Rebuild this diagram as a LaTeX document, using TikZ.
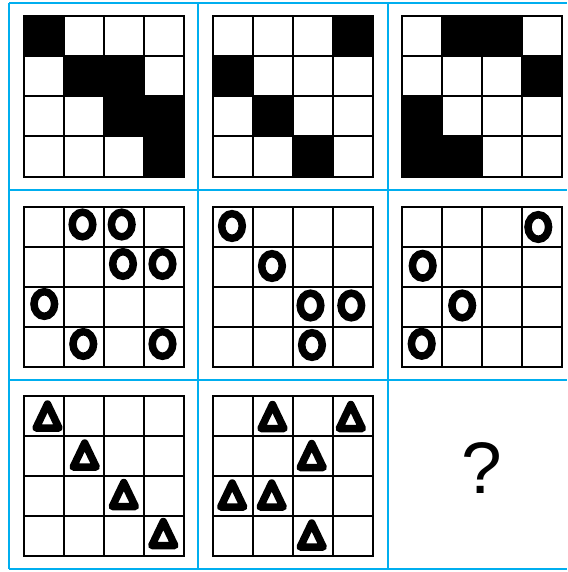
\documentclass[tikz,border=0pt]{standalone}
\usepackage{fontspec}
\setmainfont{Liberation Sans}
\definecolor{frameblue}{RGB}{0,174,239}
\tikzset{
  frameline/.style={draw=frameblue, line width=2.6pt},
  gridline/.style={draw=black, line width=2pt},
  blackcell/.style={fill=black},
  ring/.style={draw=black, line width=7.5pt},
  tri/.style={draw=black, line width=7.5pt, line join=round},
  qmark/.style={font=\fontsize{73}{73}\selectfont, inner sep=0pt}
}
% grid at (#1,#2) top-left, 160x160
\newcommand{\mygrid}[2]{%
  \draw[gridline] (#1,#2) rectangle ++(160,160);
  \foreach \k in {1,2,3}{
    \draw[gridline] ({#1+40*\k},#2) -- ++(0,160);
    \draw[gridline] (#1,{#2+40*\k}) -- ++(160,0);
  }}
\newcommand{\mycell}[4]{% gridx, gridy, col, row
  \fill[blackcell] ({#1+40*#3},{#2+40*#4}) rectangle ++(40,40);}
\newcommand{\myring}[2]{\draw[ring] (#1,#2) ellipse [x radius=10.3, y radius=12.3];}
\newcommand{\mytri}[2]{\draw[tri] (#1,{#2-13}) -- ({#1+11.5},{#2+11}) -- ({#1-11.5},{#2+11}) -- cycle;}
\begin{document}
\begin{tikzpicture}[x=1pt,y=-1pt]
\useasboundingbox (0,0) rectangle (567,572);
\fill[white] (0,0) rectangle (567,572);
% row 1: black cells
\mycell{23.5}{16.5}{0}{0}
\mycell{23.5}{16.5}{1}{1}
\mycell{23.5}{16.5}{2}{1}
\mycell{23.5}{16.5}{2}{2}
\mycell{23.5}{16.5}{3}{2}
\mycell{23.5}{16.5}{3}{3}
\mycell{212.5}{16.5}{3}{0}
\mycell{212.5}{16.5}{0}{1}
\mycell{212.5}{16.5}{1}{2}
\mycell{212.5}{16.5}{2}{3}
\mycell{402}{16.5}{1}{0}
\mycell{402}{16.5}{2}{0}
\mycell{402}{16.5}{3}{1}
\mycell{402}{16.5}{0}{2}
\mycell{402}{16.5}{0}{3}
\mycell{402}{16.5}{1}{3}
\mygrid{23.5}{16.5}
\mygrid{212.5}{16.5}
\mygrid{402}{16.5}
% row 2: rings
\mygrid{23.5}{206.5}
\mygrid{212.5}{206.5}
\mygrid{402}{206.5}
\myring{82.5}{224.5}
\myring{121.7}{224.5}
\myring{123}{264}
\myring{162.5}{264}
\myring{44.3}{304}
\myring{83.3}{344}
\myring{162.5}{344}
\myring{232}{226}
\myring{272}{266}
\myring{310.5}{305.5}
\myring{351.3}{305.5}
\myring{312}{345}
\myring{538.3}{227}
\myring{422.7}{265.8}
\myring{462.2}{305.5}
\myring{421.7}{343.8}
% row 3: triangles
\mygrid{23.5}{395.5}
\mygrid{212.5}{395.5}
\mytri{47.5}{417}
\mytri{84.7}{456}
\mytri{123.8}{495.5}
\mytri{163.3}{534.5}
\mytri{272.5}{417.5}
\mytri{350.8}{417.5}
\mytri{311.7}{456.5}
\mytri{232.2}{496}
\mytri{271.7}{496}
\mytri{311.7}{536}
\node[qmark] (q) at (481.3,468) {?};
% blue frame
\coordinate (h0a) at (9,3);   \coordinate (h0b) at (567,3);
\coordinate (h1a) at (9,190); \coordinate (h1b) at (567,190);
\coordinate (h2a) at (9,380); \coordinate (h2b) at (567,380);
\coordinate (h3a) at (9,569); \coordinate (h3b) at (567,569);
\coordinate (v0a) at (9,3);   \coordinate (v0b) at (9,569);
\coordinate (v1a) at (198,3); \coordinate (v1b) at (198,569);
\coordinate (v2a) at (388,3); \coordinate (v2b) at (388,569);
\draw[frameline] (h0a) -- (h0b);
\draw[frameline] (h1a) -- (h1b);
\draw[frameline] (h2a) -- (h2b);
\draw[frameline] (h3a) -- (h3b);
\draw[frameline] (v0a) -- (v0b);
\draw[frameline] (v1a) -- (v1b);
\draw[frameline] (v2a) -- (v2b);
\end{tikzpicture}
\end{document}
